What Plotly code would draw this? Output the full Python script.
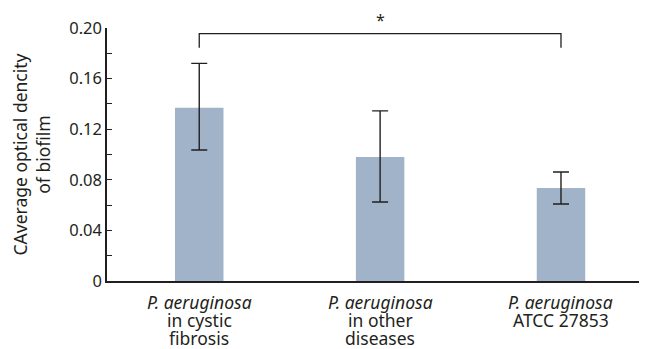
import plotly.graph_objects as go

categories = ["<i>P. aeruginosa</i><br>in cystic<br>fibrosis",
              "<i>P. aeruginosa</i><br>in other<br>diseases",
              "<i>P. aeruginosa</i><br>ATCC 27853"]
means = [0.137, 0.098, 0.0735]
err_plus = [0.035, 0.0365, 0.0127]
err_minus = [0.0334, 0.0356, 0.0126]
ytick_vals = [0, 0.04, 0.08, 0.12, 0.16, 0.20]
ytick_text = ["0", "0.04", "0.08", "0.12", "0.16", "0.20"]
bracket_x = [0, 0, 2, 2]
bracket_y = [0.1844, 0.1955, 0.1955, 0.1844]
sig_label = "*"

FONT = "Noto Sans"
DARK = "#231f20"
OFF = 8  # page body margin
W, H = 647 - OFF, 349 - OFF
ML, MR, MT = 107 - OFF, 1, 28 - OFF
MB = H - (281 - OFF)
PH = H - MT - MB

def paper_y(page_y):
    return (281 - page_y) / PH

fig = go.Figure()
fig.add_trace(go.Bar(
    x=list(range(len(categories))), y=means, width=0.268,
    marker=dict(color="#a1b3c8", line=dict(width=0)),
    error_y=dict(type="data", symmetric=False, array=err_plus, arrayminus=err_minus,
                 color=DARK, thickness=1.4, width=8),
    showlegend=False,
))
fig.add_trace(go.Scatter(
    x=bracket_x, y=bracket_y, mode="lines",
    line=dict(color=DARK, width=1.3), showlegend=False, hoverinfo="skip",
    cliponaxis=False,
))
fig.add_annotation(x=1, y=paper_y(20), xref="x", yref="paper", text=sig_label,
                   showarrow=False, yanchor="middle",
                   font=dict(family=FONT, size=16, color=DARK))

# category labels, one annotation per line for tight line spacing
line_gap = 18.3
first_mid = 301.5
for i, cat in enumerate(categories):
    for j, part in enumerate(cat.split("<br>")):
        py = first_mid + j * line_gap
        fig.add_annotation(x=i, y=paper_y(py), xref="x", yref="paper",
                           text=part, showarrow=False, yanchor="middle",
                           xanchor="center",
                           font=dict(family=FONT, size=17.5, color=DARK))

fig.update_layout(
    width=W, height=H,
    margin=dict(l=ML, r=MR, t=MT, b=MB, autoexpand=False),
    paper_bgcolor="white", plot_bgcolor="white",
    font=dict(family=FONT, size=16, color=DARK),
    xaxis=dict(range=[-0.51, 2.47], showticklabels=False,
               showline=True, linecolor=DARK, linewidth=1.5,
               ticks="", showgrid=False, zeroline=False, automargin=False),
    yaxis=dict(range=[0, 0.2], tickvals=ytick_vals, ticktext=ytick_text,
               showline=True, linecolor=DARK, linewidth=1.5,
               ticks="inside", ticklen=5, tickwidth=1.2, tickcolor=DARK,
               minor=dict(dtick=0.02, tick0=0, ticks="inside", ticklen=5,
                          tickwidth=1.2, tickcolor=DARK),
               showgrid=False, zeroline=False, automargin=False,
               tickfont=dict(family=FONT, size=16.5, color=DARK),
               title=dict(text="CAverage optical dencity<br>of biofilm",
                          font=dict(family=FONT, size=17.5, color=DARK), standoff=14)),
)

fig.write_html("out.html")
